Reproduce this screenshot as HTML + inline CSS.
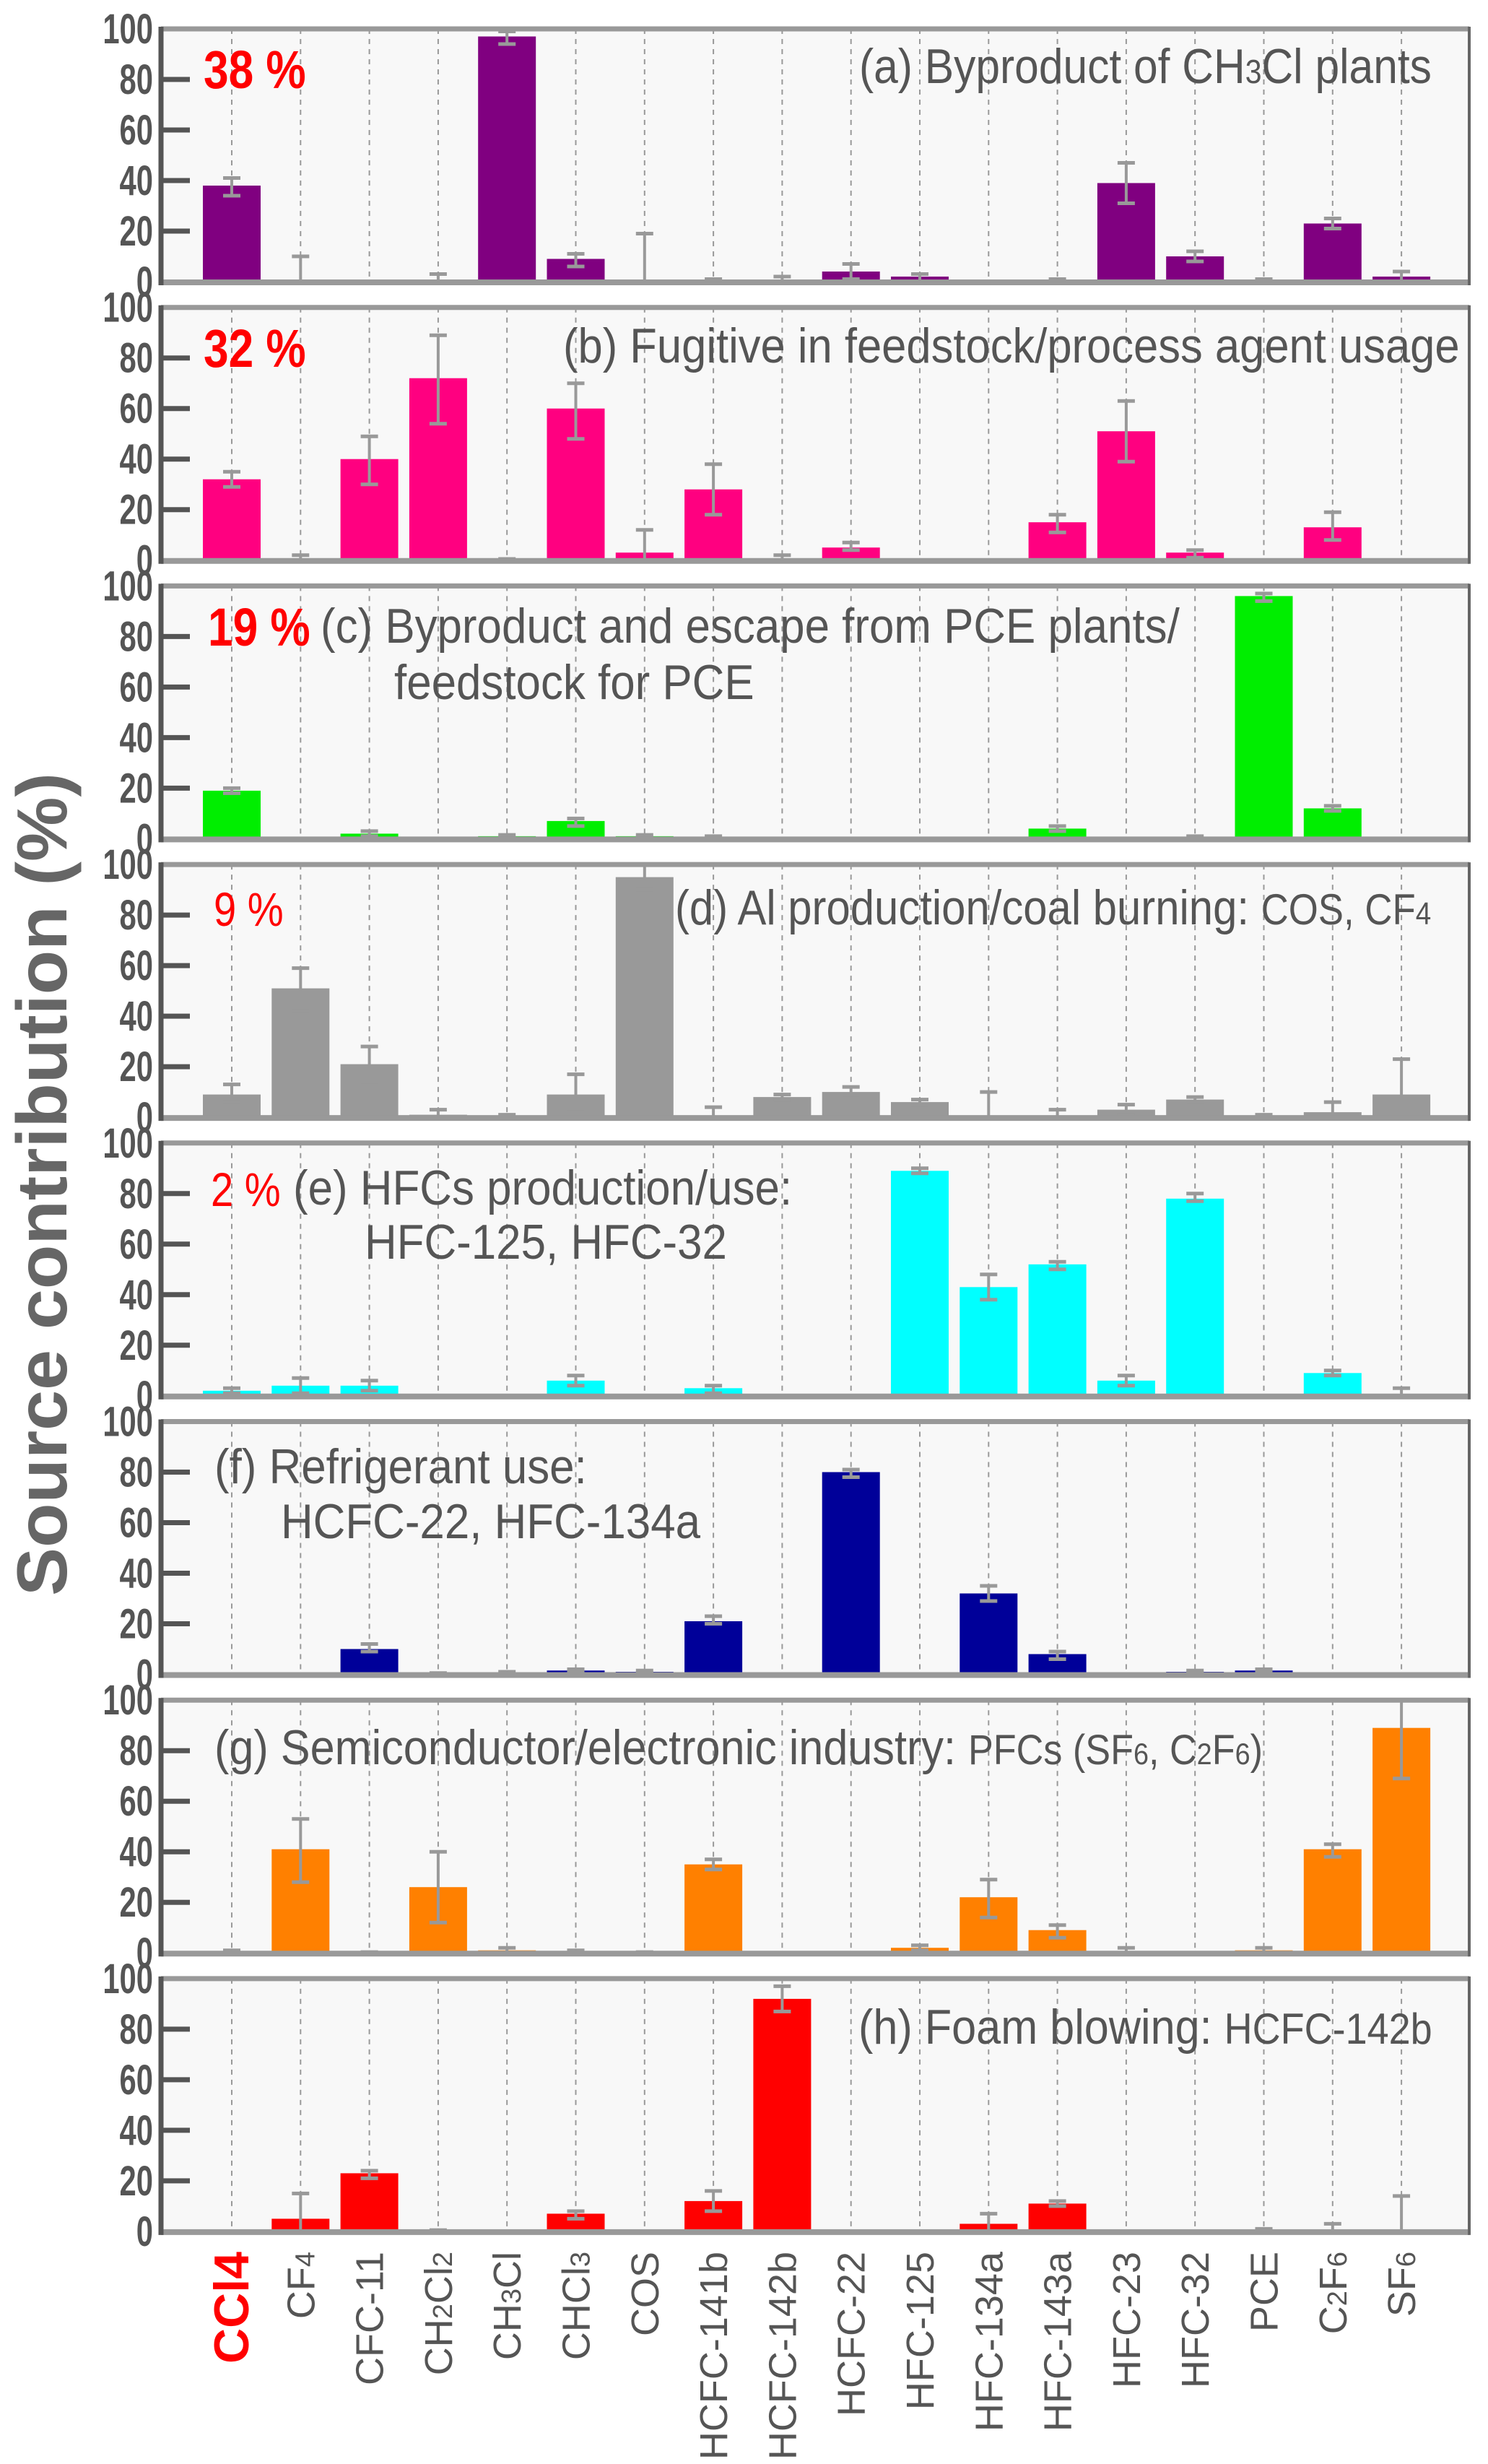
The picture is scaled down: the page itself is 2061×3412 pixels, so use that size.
<!DOCTYPE html>
<html><head><meta charset="utf-8"><style>
html,body{margin:0;padding:0;background:#fff;}
svg{display:block;}
</style></head><body>
<svg id="chart" width="2061" height="3412" viewBox="0 0 2061 3412" xmlns="http://www.w3.org/2000/svg"></svg>
<script>
const categories = ["CCl4","CF4","CFC-11","CH2Cl2","CH3Cl","CHCl3","COS","HCFC-141b","HCFC-142b","HCFC-22","HFC-125","HFC-134a","HFC-143a","HFC-23","HFC-32","PCE","C2F6","SF6"];
const yTicks = [0,20,40,60,80,100];
const panelColors = ["#800080","#ff0080","#00ee00","#999999","#00ffff","#000099","#ff8000","#ff0000"];
const valsA = [38,0,0,0,97,9,0,0,0,4,2,0,0,39,10,0,23,2];
const loA   = [34,0,0,0,94,6,0,0,0,1,0,0,0,31,8,0,21,0];
const hiA   = [41,10,0,3,99,11,19,1,2,7,3,0,1,47,12,1,25,4];
const valsB = [32,0,40,72,0,60,3,28,0,5,0,0,15,51,3,0,13,0];
const loB   = [29,0,30,54,0,48,0,18,0,4,0,0,11,39,1,0,8,0];
const hiB   = [35,2,49,89,0.5,70,12,38,2,7,0,0,18,63,4,0,19,0];
const valsC = [19,0,2,0,1,7,1,0.5,0,0,0,0,4,0,0.5,96,12,0];
const loC   = [18,0,1,0,0.5,5,0.5,0,0,0,0,0,3,0,0,94,11,0];
const hiC   = [20,0,3,0,1.5,8,1.5,1,0,0,0,0,5,0,1,97,13,0];
const valsD = [9,51,21,1,0.5,9,95,0,8,10,6,0,0,3,7,0.5,2,9];
const loD   = [6,42,14,0,0,2,90,0,7,9,5,0,0,1,6,0,0,0];
const hiD   = [13,59,28,3,1,17,100,4,9,12,7,10,3,5,8,1,6,23];
const valsE = [2,4,4,0,0,6,0,3,0,0,89,43,52,6,78,0,9,0];
const loE   = [1,1,2,0,0,4,0,1,0,0,88,38,50,4,77,0,8,0];
const hiE   = [3,7,6,0,0,8,0,4,0,0,90,48,53,8,80,0,10,3];
const valsF = [0,0,10,0.5,0.5,1.5,1,21,0,80,0,32,8,0,1,1.5,0,0];
const loF   = [0,0,9,0,0,1,0.5,20,0,78,0,29,6,0,0.5,1,0,0];
const hiF   = [0,0,12,0.5,1,2,1.5,23,0,81,0,35,9,0,1.5,2,0,0];
const valsG = [0,41,0,26,1,0,0,35,0,0,2,22,9,0,0,1,41,89];
const loG   = [0,28,0,12,0,0,0,33,0,0,1,14,6,0,0,0,38,69];
const hiG   = [1,53,0.3,40,2,1,0.3,37,0,0,3,29,11,2,0,2,43,100];
const valsH = [0,5,23,0,0,7,0,12,92,0,0,3,11,0,0,0.5,0,0];
const loH   = [0,0,21,0,0,5,0,8,87,0,0,0,10,0,0,0,0,0];
const hiH   = [0,15,24,0.5,0,8,0,16,97,0,0,7,12,0,0,1,3,14];
const panelVals = [valsA,valsB,valsC,valsD,valsE,valsF,valsG,valsH];
const panelLo = [loA,loB,loC,loD,loE,loF,loG,loH];
const panelHi = [hiA,hiB,hiC,hiD,hiE,hiF,hiG,hiH];

const NS="http://www.w3.org/2000/svg";
const svg=document.getElementById('chart');
function mk(tag,attrs,parent){const e=document.createElementNS(NS,tag);for(const k in attrs)e.setAttribute(k,attrs[k]);(parent||svg).appendChild(e);return e;}
const X0=223, X1=2035, C0=321, STEP=95.3, BW=80;
const PANEL_STEP=385.7, PH=350, TOP0=40;
function xPos(i){return C0+i*STEP;}
function yPos(p,v){return TOP0+p*PANEL_STEP+PH - v*PH/100;}

const sans='"Liberation Sans",sans-serif';

for(let p=0;p<8;p++){
  const g=mk('g',{});
  
  
  const T=TOP0+p*PANEL_STEP, B=T+PH;
  const bg=mk('rect',{x:X0,y:T,width:X1-X0,height:PH,fill:'#f8f8f8'},g);
  
  
  categories.forEach((c,i)=>{
    const gl=mk('line',{x1:xPos(i),x2:xPos(i),y1:T,y2:B,stroke:'#999','stroke-width':2,'stroke-dasharray':'7,7'},g);
    
    
  });
  const vals=panelVals[p], lo=panelLo[p], hi=panelHi[p];
  vals.forEach((v,i)=>{
    if(v>0){
      const r=mk('rect',{x:xPos(i)-BW/2,y:yPos(p,v),width:BW,height:B-yPos(p,v),fill:panelColors[p]},g);
      
      
    }
    if(hi[i]>0){
      const yl=yPos(p,lo[i]), yh=yPos(p,hi[i]);
      const eg=mk('g',{stroke:'#999','stroke-width':4},g);
      
      
      mk('line',{x1:xPos(i),x2:xPos(i),y1:yl,y2:yh},eg);
      mk('line',{x1:xPos(i)-12,x2:xPos(i)+12,y1:yh,y2:yh,'stroke-width':5},eg);
      if(lo[i]>0) mk('line',{x1:xPos(i)-12,x2:xPos(i)+12,y1:yl,y2:yl,'stroke-width':5},eg);
    }
  });
  mk('line',{x1:X0,x2:X1,y1:T,y2:T,stroke:'#999','stroke-width':7},g);
  mk('line',{x1:X0,x2:X1,y1:B+1,y2:B+1,stroke:'#999','stroke-width':8},g);
  mk('line',{x1:X1,x2:X1,y1:T-3,y2:B+5,stroke:'#666','stroke-width':4},g);
  const ax=mk('line',{x1:X0,x2:X0,y1:T-3,y2:B+5,stroke:'#555','stroke-width':7},g);
  
  
  yTicks.forEach(t=>{
    const y=yPos(p,t);
    if(t>0&&t<100) mk('line',{x1:X0,x2:X0+40,y1:y,y2:y,stroke:'#555','stroke-width':7},g);
    const tl=mk('text',{x:0,y:0,transform:`translate(212,${y+20}) scale(0.72,1)`,'text-anchor':'end','font-family':sans,'font-weight':'bold','font-size':58,fill:'#555'},g);
    
    
    tl.textContent=t;
  });
}

function txt(x,y,parts,opts,name,sx){
  sx=sx||0.91;
  const t=mk('text',Object.assign({x:0,y:0,transform:`translate(${x},${y}) scale(${sx},1)`,'font-family':sans,fill:'#555','font-size':68},opts));
  
  
  parts.forEach(pt=>{const s=mk('tspan',pt.a||{},t);s.textContent=pt.t;});
  return t;
}
const red={fill:'#ff0000','font-weight':'bold','font-size':74};
txt(282,122,[{t:'38 %'}],red,'percent-a',0.84);
txt(282,508,[{t:'32 %'}],red,'percent-b',0.84);
txt(288,894,[{t:'19 %'}],red,'percent-c',0.84);
txt(296,1282,[{t:'9 %'}],{fill:'#ff0000','font-size':66},'percent-d',0.85);
txt(292,1670,[{t:'2 %'}],{fill:'#ff0000','font-size':66},'percent-e',0.85);

txt(1190,115,[{t:'(a) Byproduct of CH'},{t:'3',a:{'font-size':46}},{t:'Cl plants'}],{},'panel-a-title',0.89);
txt(780,502,[{t:'(b) Fugitive in feedstock/process agent usage'}],{},'panel-b-title',0.905);
txt(444,890,[{t:'(c) Byproduct and escape from PCE plants/'}],{},'panel-c-title',0.91);
txt(546,968,[{t:'feedstock for PCE'}],{},'panel-c-subtitle',0.91);
txt(935,1280,[{t:'(d) Al production/coal burning: '},{t:'COS, CF',a:{'font-size':60}},{t:'4',a:{'font-size':44}}],{},'panel-d-title',0.88);
txt(406,1668,[{t:'(e) HFCs production/use:'}],{},'panel-e-title',0.91);
txt(505,1743,[{t:'HFC-125, HFC-32'}],{},'panel-e-subtitle',0.91);
txt(297,2054,[{t:'(f) Refrigerant use:'}],{},'panel-f-title',0.91);
txt(389,2130,[{t:'HCFC-22, HFC-134a'}],{},'panel-f-subtitle',0.91);
txt(297,2443,[{t:'(g) Semiconductor/electronic industry: '},{t:'PFCs (SF',a:{'font-size':58}},{t:'6',a:{'font-size':42}},{t:', C',a:{'font-size':58}},{t:'2',a:{'font-size':42}},{t:'F',a:{'font-size':58}},{t:'6',a:{'font-size':42}},{t:')',a:{'font-size':58}}],{},'panel-g-title',0.9);
txt(1189,2830,[{t:'(h) Foam blowing: '},{t:'HCFC-142b',a:{'font-size':60}}],{},'panel-h-title',0.9);

// y-axis title
const yt=mk('text',{x:0,y:0,transform:'translate(92,1640) rotate(-90)','text-anchor':'middle','font-family':sans,'font-weight':'bold','font-size':98,fill:'#666',textLength:1140,lengthAdjust:'spacingAndGlyphs'});


yt.textContent='Source contribution (%)';

// x labels
categories.forEach((c,i)=>{
  const x=xPos(i)+19, y=3118;
  const t=mk('text',{x:0,y:0,transform:`translate(${x},${y}) rotate(-90)`,'text-anchor':'end','font-family':sans,'font-size':54,fill:'#555'});
  
  
  if(i===0){t.setAttribute('fill','#ff0000');t.setAttribute('font-weight','bold');t.setAttribute('font-size',68);t.setAttribute('transform',`translate(${x+4},${y}) rotate(-90)`);}
  const chem=/^(CF4|CH2Cl2|CH3Cl|CHCl3|C2F6|SF6)$/.test(c);
  if(chem){
    for(const ch of c){const s=mk('tspan',/\d/.test(ch)?{'font-size':38}:{},t);s.textContent=ch;}
  } else t.textContent=c;
});
</script>
</body></html>
